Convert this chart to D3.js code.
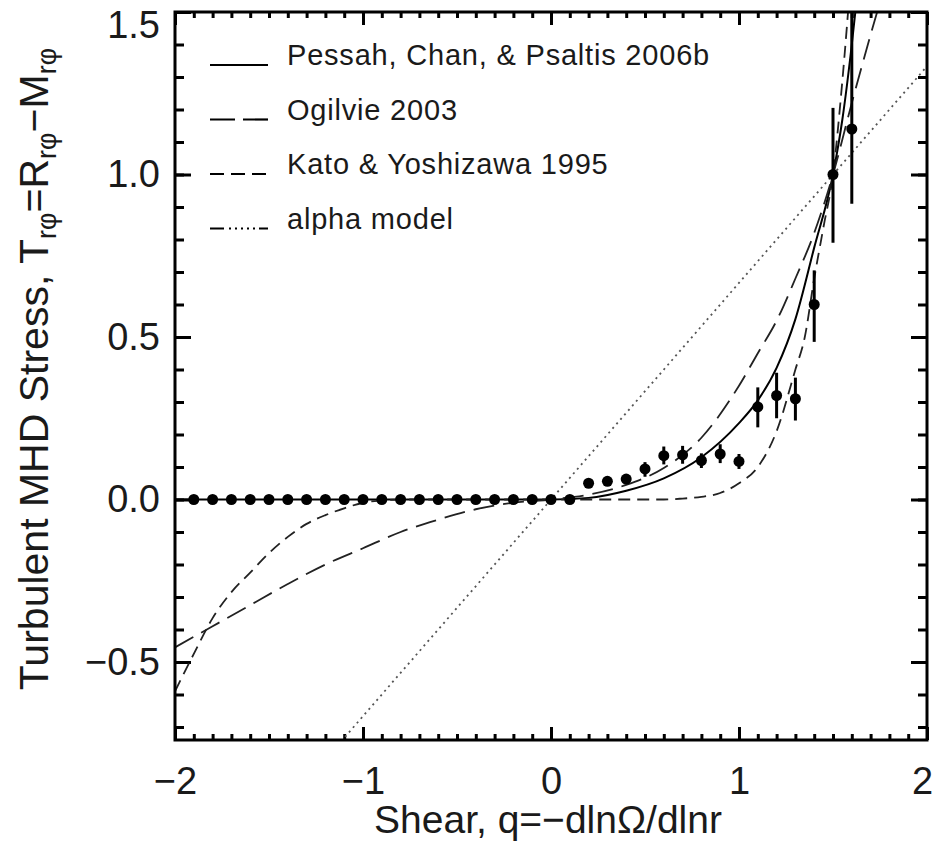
<!DOCTYPE html>
<html>
<head>
  <meta charset="utf-8">
  <title>Turbulent MHD stress vs shear</title>
  <script src="https://cdn.jsdelivr.net/npm/d3@7"></script>
  <style>
    body { margin: 0; background: #fff; }
    text { font-family: "Liberation Sans", Arial, Helvetica, sans-serif; fill: #1a1a1a; }
  </style>
</head>
<body>
  <svg width="936" height="845" id="mainsvg"></svg>
  <script>
    // simulation points (shear q, stress T) with error bar ends
    const simQ = [-1.9, -1.8, -1.7, -1.6, -1.5, -1.4, -1.3, -1.2, -1.1, -1.0, -0.9, -0.8, -0.7, -0.6, -0.5, -0.4, -0.3, -0.2, -0.1, 0.0, 0.1,
                  0.2, 0.3, 0.4, 0.5, 0.6, 0.7, 0.8, 0.9, 1.0, 1.1, 1.2, 1.3, 1.4, 1.5, 1.6];
    const simT = [0, 0, 0, 0, 0, 0, 0, 0, 0, 0, 0, 0, 0, 0, 0, 0, 0, 0, 0, 0, 0,
                  0.050, 0.056, 0.063, 0.094, 0.135, 0.137, 0.120, 0.140, 0.117, 0.285, 0.320, 0.310, 0.600, 1.000, 1.140];
    const simLo = [0, 0, 0, 0, 0, 0, 0, 0, 0, 0, 0, 0, 0, 0, 0, 0, 0, 0, 0, 0, 0,
                   0.040, 0.046, 0.050, 0.070, 0.108, 0.110, 0.097, 0.112, 0.094, 0.222, 0.250, 0.243, 0.485, 0.790, 0.910];
    const simHi = [0, 0, 0, 0, 0, 0, 0, 0, 0, 0, 0, 0, 0, 0, 0, 0, 0, 0, 0, 0, 0,
                   0.060, 0.066, 0.076, 0.115, 0.163, 0.165, 0.142, 0.170, 0.140, 0.345, 0.390, 0.375, 0.705, 1.205, 1.600];

    // model curves
    const pessahQ = [-2.0, -1.0, 0.0, 0.2, 0.4, 0.6, 0.8, 1.0, 1.1, 1.2, 1.3, 1.4, 1.5, 1.55, 1.6, 1.63];
    const pessahT = [0, 0, 0, 0.005, 0.027, 0.065, 0.13, 0.235, 0.305, 0.405, 0.555, 0.775, 1.0, 1.17, 1.40, 1.56];

    const ogilvieQ = [-2.0, -1.8, -1.6, -1.4, -1.2, -1.0, -0.8, -0.6, -0.4, -0.2, 0.0, 0.2, 0.4, 0.6, 0.8, 1.0, 1.1, 1.2, 1.3, 1.4, 1.5, 1.6, 1.7, 1.76];
    const ogilvieT = [-0.455, -0.39, -0.325, -0.26, -0.20, -0.15, -0.10, -0.062, -0.03, -0.01, 0, 0.015, 0.045, 0.097, 0.19, 0.35, 0.45, 0.55, 0.68, 0.82, 1.0, 1.22, 1.43, 1.55];

    const katoQ = [-2.0, -1.9, -1.8, -1.7, -1.6, -1.5, -1.4, -1.3, -1.2, -1.1, -1.0, -0.9, -0.8, 0.6, 0.7, 0.8, 0.9, 1.0, 1.1, 1.2, 1.3, 1.35, 1.4, 1.45, 1.5, 1.55, 1.6];
    const katoT = [-0.59, -0.475, -0.365, -0.285, -0.225, -0.165, -0.115, -0.075, -0.048, -0.027, -0.01, -0.003, 0, 0, 0.003, 0.008, 0.02, 0.05, 0.10, 0.21, 0.40, 0.50, 0.68, 0.84, 1.0, 1.29, 1.65];

    const alphaQ = [-1.2, 2.0];
    const alphaT = [-0.8, 1.333];

    const legendLabels = ['Pessah, Chan, & Psaltis 2006b', 'Ogilvie 2003', 'Kato & Yoshizawa 1995', 'alpha model'];
    const xMajorTicks = [-2, -1, 0, 1, 2];
    const yMajorTicks = [-0.5, 0.0, 0.5, 1.0, 1.5];

    const svg = d3.select('#mainsvg');
    const margin = { top: 12, right: 9, bottom: 105, left: 175 };
    const width = +svg.attr('width');
    const height = +svg.attr('height');
    const innerWidth = width - margin.left - margin.right;
    const innerHeight = height - margin.top - margin.bottom;

    const xScale = d3.scaleLinear().domain([-2, 2]).range([0, innerWidth]);
    const yScale = d3.scaleLinear().domain([-0.74, 1.5]).range([innerHeight, 0]);

    const g = svg.append('g').attr('transform', `translate(${margin.left}, ${margin.top})`);

    svg.append('clipPath').attr('id', 'plotclip')
      .append('rect').attr('width', innerWidth).attr('height', innerHeight);

    // ticks on all four sides, pointing inward
    const xMinor = d3.range(-20, 21).map(d => d / 10);
    const yMinor = d3.range(-7, 16).map(d => d / 10);

    const styleAxis = sel => {
      sel.select('.domain').remove();
      sel.selectAll('.tick line').attr('stroke', '#000').attr('stroke-width', 3);
      sel.selectAll('.tick text').filter(function () { return this.textContent === ''; }).remove();
    };

    g.append('g').attr('transform', `translate(0, ${innerHeight})`)
      .call(d3.axisBottom(xScale).tickValues(xMinor).tickSize(-6).tickFormat('')).call(styleAxis);
    g.append('g')
      .call(d3.axisTop(xScale).tickValues(xMinor).tickSize(-6).tickFormat('')).call(styleAxis);
    const xAxisGroup = g.append('g').attr('transform', `translate(0, ${innerHeight})`)
      .call(d3.axisBottom(xScale).tickValues(xMajorTicks).tickSize(-13).tickPadding(27).tickFormat(d3.format('d')))
      .call(styleAxis);
    g.append('g')
      .call(d3.axisTop(xScale).tickValues(xMajorTicks).tickSize(-13).tickFormat('')).call(styleAxis);

    g.append('g')
      .call(d3.axisLeft(yScale).tickValues(yMinor).tickSize(-9).tickFormat('')).call(styleAxis);
    g.append('g').attr('transform', `translate(${innerWidth}, 0)`)
      .call(d3.axisRight(yScale).tickValues(yMinor).tickSize(-9).tickFormat('')).call(styleAxis);
    const yAxisGroup = g.append('g')
      .call(d3.axisLeft(yScale).tickValues(yMajorTicks).tickSize(-16).tickPadding(15).tickFormat(d3.format('.1f')))
      .call(styleAxis);
    g.append('g').attr('transform', `translate(${innerWidth}, 0)`)
      .call(d3.axisRight(yScale).tickValues(yMajorTicks).tickSize(-16).tickFormat('')).call(styleAxis);

    xAxisGroup.selectAll('text').attr('font-size', 38).attr('fill', '#1a1a1a')
      .attr('font-family', '"Liberation Sans", Arial, sans-serif');
    yAxisGroup.selectAll('text').attr('font-size', 38).attr('fill', '#1a1a1a')
      .attr('font-family', '"Liberation Sans", Arial, sans-serif');
    // keep the outermost labels inside the picture, as in the original
    yAxisGroup.selectAll('.tick text').filter(d => d === 1.5).attr('dy', '0.66em');
    xAxisGroup.selectAll('.tick text').filter(d => d === 2).attr('dx', -5);

    // model curves
    const plot = g.append('g').attr('clip-path', 'url(#plotclip)');
    const lineGen = d3.line().x(d => xScale(d[0])).y(d => yScale(d[1])).curve(d3.curveMonotoneX);

    const curves = [
      { q: pessahQ, t: pessahT, dash: null, color: '#000', w: 2 },
      { q: ogilvieQ, t: ogilvieT, dash: '21,9', color: '#222', w: 1.8 },
      { q: katoQ, t: katoT, dash: '12,7', color: '#222', w: 1.8 },
      { q: alphaQ, t: alphaT, dash: '2,4', color: '#555', w: 1.8 }
    ];

    curves.forEach(c => {
      plot.append('path')
        .datum(c.q.map((q, i) => [q, c.t[i]]))
        .attr('d', lineGen)
        .attr('fill', 'none')
        .attr('stroke', c.color)
        .attr('stroke-width', c.w)
        .attr('stroke-dasharray', c.dash);
    });

    // simulation points with error bars
    const sim = simQ.map((q, i) => ({ q: q, t: simT[i], lo: simLo[i], hi: simHi[i] }));
    plot.selectAll('line.err')
      .data(sim.filter(d => d.hi > d.lo))
      .enter()
      .append('line')
      .attr('class', 'err')
      .attr('x1', d => xScale(d.q)).attr('x2', d => xScale(d.q))
      .attr('y1', d => yScale(d.lo)).attr('y2', d => yScale(d.hi))
      .attr('stroke', '#000').attr('stroke-width', 3);
    plot.selectAll('circle')
      .data(sim)
      .enter()
      .append('circle')
      .attr('cx', d => xScale(d.q))
      .attr('cy', d => yScale(d.t))
      .attr('r', 5.5)
      .attr('fill', '#000');

    // frame
    g.append('rect')
      .attr('width', innerWidth).attr('height', innerHeight)
      .attr('fill', 'none').attr('stroke', '#000').attr('stroke-width', 3);

    // legend
    const legend = g.append('g').attr('transform', 'translate(35, 53)');
    legendLabels.forEach((label, i) => {
      const row = legend.append('g').attr('transform', `translate(0, ${i * 54.5})`);
      row.append('line')
        .attr('x1', 0).attr('x2', 58)
        .attr('stroke', '#000').attr('stroke-width', 2.2)
        .attr('stroke-dasharray', [null, '25,8', '14,7', '14,5,2,4,2,4,2,4,2,4,2,4'][i]);
      row.append('text')
        .attr('x', 77).attr('y', 0)
        .attr('font-size', 29)
        .attr('letter-spacing', 0.8)
        .text(label);
    });

    // axis titles
    svg.append('text')
      .attr('x', 548).attr('y', 833)
      .attr('text-anchor', 'middle')
      .attr('font-size', 39)
      .text('Shear, q=\u2212dln\u03a9/dlnr');

    // y title: pieces laid end to end, subscripts a little lower and smaller
    const yTitleParts = [
      { s: 'Turbulent MHD Stress, T', size: 41, shift: 0 },
      { s: 'r\u03c6', size: 27, shift: 8 },
      { s: '=R', size: 41, shift: 0 },
      { s: 'r\u03c6', size: 27, shift: 8 },
      { s: '\u2212M', size: 41, shift: 0 },
      { s: 'r\u03c6', size: 27, shift: 8 }
    ];
    const yTitle = svg.append('g');
    let run = 0;
    yTitleParts.forEach(p => {
      const t = yTitle.append('text')
        .attr('x', run).attr('y', p.shift)
        .attr('font-size', p.size)
        .text(p.s);
      run += t.node().getComputedTextLength();
    });
    yTitle.attr('transform', `translate(48, ${369 + run / 2}) rotate(-90)`);
  </script>
</body>
</html>
